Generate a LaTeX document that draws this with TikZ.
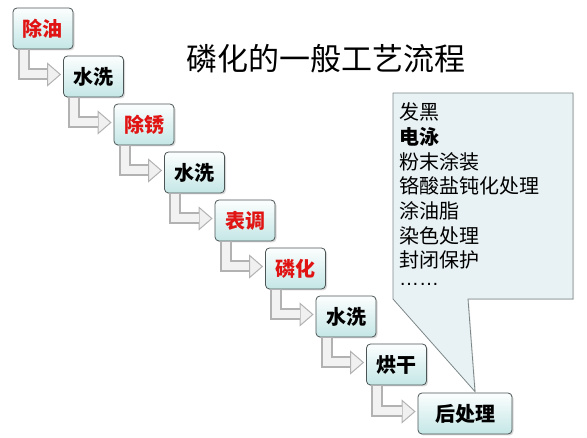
\documentclass[tikz,border=0pt]{standalone}
\usepackage{fontspec}
\setmainfont{Noto Sans CJK SC}
\newfontfamily\dotsfont{Liberation Sans}
\usetikzlibrary{shadows,arrows.meta}

\definecolor{boxtop}{RGB}{252,254,254}
\definecolor{boxbottom}{RGB}{196,230,230}
\definecolor{boxedge}{RGB}{75,85,85}
\definecolor{stepred}{RGB}{225,20,20}
\definecolor{noteback}{RGB}{232,241,244}
\definecolor{noteedge}{RGB}{125,135,135}

\tikzset{
  stepbox/.style={draw=boxedge, line width=0.8pt, rounded corners=4pt,
    top color=boxtop, bottom color=boxbottom, minimum width=60pt, minimum height=41pt,
    inner sep=2pt, font=\bfseries\fontsize{20}{24}\selectfont,
    drop shadow={shadow xshift=1.5pt, shadow yshift=-1.5pt, opacity=0.3}},
  redstep/.style={stepbox, text=stepred},
  flowout/.style={line width=12pt, draw=gray!60, line join=miter, shorten >=2pt,
    -{Triangle[length=14pt,width=24pt,fill=gray!12,line width=1pt]}},
  flowin/.style={line width=8pt, draw=gray!10},
  notebox/.style={draw=noteedge, line width=0.8pt, fill=noteback,
    drop shadow={shadow xshift=1pt, shadow yshift=-1pt, opacity=0.2}},
  listtext/.style={anchor=west, inner sep=0pt, font=\fontsize{20}{24}\selectfont}
}

\begin{document}
\begin{tikzpicture}[x=1pt,y=-1pt]
  \useasboundingbox (0,0) rectangle (587,438);

  % title
  \node[font=\fontsize{31}{36}\selectfont] (title) at (326,59) {磷化的一般工艺流程};

  % process steps
  \node[redstep] (oil) at (43,28.5) {除油};
  \node[stepbox] (wash1) at (93.5,76.5) {水洗};
  \node[redstep] (rust) at (144,124.5) {除锈};
  \node[stepbox] (wash2) at (194.5,172.5) {水洗};
  \node[redstep] (adjust) at (245,220.5) {表调};
  \node[redstep] (phos) at (295.5,268.5) {磷化};
  \node[stepbox] (wash3) at (346,316.5) {水洗};
  \node[stepbox] (dry) at (396.5,364.5) {烘干};
  \node[stepbox, minimum width=94pt] (post) at (465,413.5) {后处理};

  % L-shaped arrows
  \foreach \a/\b in {oil/wash1, wash1/rust, rust/wash2, wash2/adjust,
                     adjust/phos, phos/wash3, wash3/dry, dry/post} {
    \draw[flowout] ([xshift=11pt]\a.south west) |- ([yshift=2pt]\b.west);
    \draw[flowin] ([xshift=11pt,yshift=-0.5pt]\a.south west) |- ([xshift=-16pt,yshift=2pt]\b.west);
  }

  % callout with the after-treatments
  \draw[notebox] (393,93) -- (573,93) -- (573,299) -- (468,299)
    -- ([xshift=10pt,yshift=1pt]post.north) -- (393,299) -- cycle;
  \foreach \t [count=\i] in {发黑, {\bfseries 电泳}, 粉末涂装, 铬酸盐钝化处理,
                             涂油脂, 染色处理, 封闭保护, {\dotsfont ……}}
    \node[listtext] (item\i) at (399,{112+24.7*(\i-1)}) {\t};
\end{tikzpicture}
\end{document}
